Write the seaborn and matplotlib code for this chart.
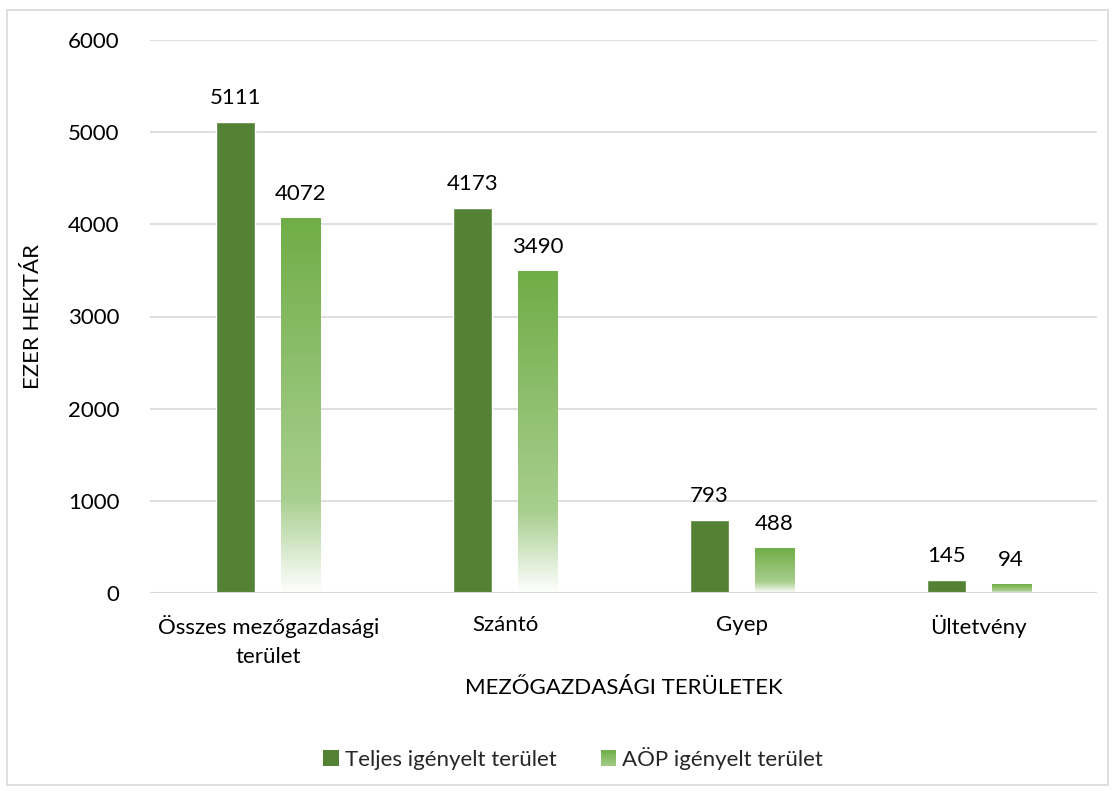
import matplotlib
matplotlib.use("Agg")
import matplotlib.pyplot as plt
import numpy as np
import pandas as pd
import seaborn as sns
from matplotlib.colors import LinearSegmentedColormap
from matplotlib.legend_handler import HandlerBase
from matplotlib.patches import Rectangle

categories = ["Összes mezőgazdasági\nterület", "Szántó", "Gyep", "Ültetvény"]
series = ["Teljes igényelt terület", "AÖP igényelt terület"]
teljes = [5111, 4173, 793, 145]
aop = [4072, 3490, 488, 94]
yticks = [0, 1000, 2000, 3000, 4000, 5000, 6000]

DARK = "#548235"
LIGHT = "#70AD47"
GRAD = LinearSegmentedColormap.from_list(
    "aop", [(0.0, "#ffffff"), (0.25, "#a8cf8f"), (1.0, LIGHT)]
)
GRID = "#d9d9d9"
TEXT = "#000000"

df = pd.DataFrame({
    "cat": categories * 2,
    "series": [series[0]] * 4 + [series[1]] * 4,
    "value": teljes + aop,
})


class GradientHandler(HandlerBase):
    def create_artists(self, legend, orig_handle, xdescent, ydescent,
                       width, height, fontsize, trans):
        side = height * 1.0
        x0 = -xdescent + (width - side)
        y0 = -ydescent + (height - side) / 2
        n = 12
        arts = []
        for i in range(n):
            c = GRAD(0.35 + 0.65 * (i + 0.5) / n)
            arts.append(Rectangle((x0, y0 + side * i / n), side, side / n + 0.3,
                                  facecolor=c, edgecolor="none", transform=trans))
        return arts


class SquareHandler(HandlerBase):
    def create_artists(self, legend, orig_handle, xdescent, ydescent,
                       width, height, fontsize, trans):
        side = height * 1.0
        x0 = -xdescent + (width - side)
        y0 = -ydescent + (height - side) / 2
        return [Rectangle((x0, y0), side, side, facecolor=DARK,
                          edgecolor="none", transform=trans)]


def main():
    sns.set_theme(style="white")
    plt.rcParams["font.family"] = ["Lato", "DejaVu Sans"]
    fs = 16

    fig = plt.figure(figsize=(11.16, 7.91), dpi=100)
    fig.patches.append(Rectangle((7 / 1116, 6 / 791), 1101 / 1116, 775 / 791,
                                 transform=fig.transFigure, fill=False,
                                 edgecolor=GRID, linewidth=1.2))
    ax = fig.add_axes([150 / 1116, 1 - 593 / 791, 947 / 1116, 553 / 791])

    sns.barplot(data=df, x="cat", y="value", hue="series",
                palette=[DARK, LIGHT], width=0.55, gap=0.4,
                saturation=1, ax=ax, legend=False, zorder=3)

    ax.set_ylim(0, 6000)
    ax.set_xlim(-0.5, len(categories) - 0.5)
    ax.set_yticks(yticks)
    ax.set_yticklabels([str(t) for t in yticks], fontsize=fs, color=TEXT)
    ax.tick_params(axis="x", labelsize=fs, colors=TEXT, length=0, pad=16)
    for lbl in ax.get_xticklabels():
        lbl.set_linespacing(1.55)
    ax.tick_params(axis="y", length=0, pad=22)
    ax.yaxis.grid(True, color=GRID, linewidth=1.2, zorder=0)
    ax.set_axisbelow(True)
    for s in ax.spines.values():
        s.set_visible(False)
    ax.axhline(0, color=GRID, linewidth=1.5, zorder=4)

    # gradient fill for the second series
    grad = np.linspace(1, 0, 256).reshape(-1, 1)
    for bar in ax.containers[1]:
        x, w, h = bar.get_x(), bar.get_width(), bar.get_height()
        bar.set_facecolor("none")
        im = ax.imshow(grad, cmap=GRAD, vmin=0, vmax=1, aspect="auto",
                       extent=[x, x + w, 0, h], zorder=3, interpolation="bilinear")
        im.set_clip_path(bar)
    ax.set_aspect("auto")
    ax.set_xlim(-0.5, len(categories) - 0.5)
    ax.set_ylim(0, 6000)

    for cont in ax.containers:
        ax.bar_label(cont, fmt="%d", padding=10, fontsize=fs, color=TEXT)

    ax.set_xlabel("MEZŐGAZDASÁGI TERÜLETEK", fontsize=fs, color=TEXT, labelpad=8)
    ax.set_ylabel("EZER HEKTÁR", fontsize=fs, color=TEXT, labelpad=18)

    h1 = Rectangle((0, 0), 1, 1)
    h2 = Rectangle((0, 0), 1, 1)
    fig.legend([h1, h2], series, loc="center", bbox_to_anchor=(572 / 1116, 1 - 758 / 791),
               ncol=2, frameon=False, fontsize=fs, handlelength=0.8,
               handletextpad=0.25, columnspacing=1.9,
               handler_map={h1: SquareHandler(), h2: GradientHandler()})

    fig.savefig("out.png", dpi=100)
    plt.close(fig)


if __name__ == "__main__":
    main()
